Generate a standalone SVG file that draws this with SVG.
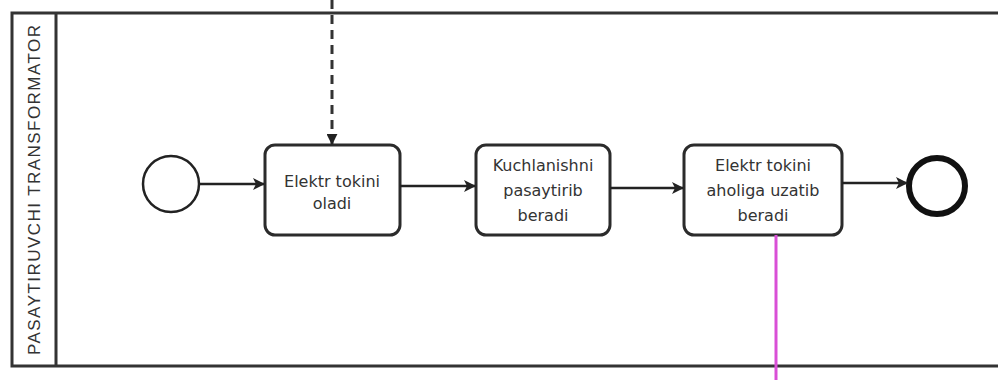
<svg xmlns="http://www.w3.org/2000/svg" width="998" height="380" viewBox="0 0 998 380">
<style>
.pool{fill:none;stroke:#333;stroke-width:3}
.task rect{fill:#fff;stroke:#2b2b2b;stroke-width:3}
.lbl{font-family:"DejaVu Sans",sans-serif;font-size:16px;fill:#333;text-anchor:middle}
.flow{stroke:#222;stroke-width:2.5;fill:none}
</style>
<defs>
<marker id="arr" viewBox="0 0 12 12" refX="11" refY="6" markerWidth="12" markerHeight="12" markerUnits="userSpaceOnUse" orient="auto">
<path d="M0,0 L12,6 L0,12 L3,6 Z" fill="#222"/>
</marker>
<marker id="tri" viewBox="0 0 12 12" refX="11" refY="6" markerWidth="11" markerHeight="11" markerUnits="userSpaceOnUse" orient="auto">
<path d="M0,0 L12,6 L0,12 Z" fill="#222"/>
</marker>
</defs>
<rect fill="#fff" width="998" height="380"/>
<g id="pool">
<path class="pool" d="M1000,13 L12,13 L12,366 L1000,366 M56,13 L56,366"/>
<text font-family="Liberation Sans, Arial, sans-serif" font-size="17" fill="#333" text-anchor="middle" transform="translate(40,190) rotate(-90)" textLength="330" lengthAdjust="spacing">PASAYTIRUVCHI TRANSFORMATOR</text>
</g>
<g id="start"><circle cx="171" cy="184" r="28" fill="#fff" stroke="#222" stroke-width="2.5"/></g>
<g id="task1" class="task"><rect x="265" y="145" width="135" height="90" rx="10"/>
<text class="lbl"><tspan x="332" y="187">Elektr tokini</tspan><tspan x="332" y="209">oladi</tspan></text></g>
<g id="task2" class="task"><rect x="476" y="145" width="134" height="90" rx="10"/>
<text class="lbl"><tspan x="543" y="171">Kuchlanishni</tspan><tspan x="543" y="196">pasaytirib</tspan><tspan x="543" y="221">beradi</tspan></text></g>
<g id="task3" class="task"><rect x="684" y="145" width="158" height="90" rx="10"/>
<text class="lbl"><tspan x="763" y="171">Elektr tokini</tspan><tspan x="763" y="196">aholiga uzatib</tspan><tspan x="763" y="221">beradi</tspan></text></g>
<g id="end"><circle cx="937" cy="186" r="28" fill="#fff" stroke="#111" stroke-width="6"/></g>
<g id="connectors">
<line class="flow" x1="199" y1="184" x2="264" y2="184" marker-end="url(#arr)"/>
<line class="flow" x1="400" y1="186" x2="475" y2="186" marker-end="url(#arr)"/>
<line class="flow" x1="610" y1="188" x2="683" y2="188" marker-end="url(#arr)"/>
<line class="flow" x1="842" y1="183" x2="907" y2="183" marker-end="url(#arr)"/>
<line x1="332" y1="0" x2="332" y2="144" stroke="#333" stroke-width="3" stroke-dasharray="9 6" marker-end="url(#tri)"/>
<line x1="776" y1="235" x2="776" y2="380" stroke="#d94fd6" stroke-width="3"/>
</g>
</svg>
